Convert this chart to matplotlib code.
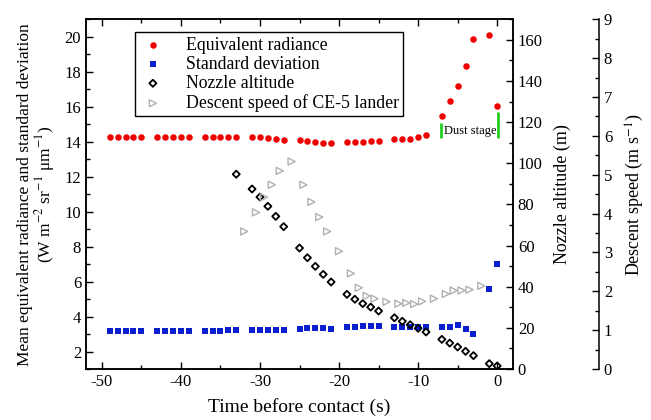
"""Radiance, standard deviation, nozzle altitude and descent speed before touchdown."""

import matplotlib.pyplot as plt
from matplotlib.ticker import MultipleLocator

plt.rcParams["font.family"] = ["Liberation Serif", "DejaVu Serif"]
plt.rcParams["mathtext.fontset"] = "stix"
plt.rcParams["axes.unicode_minus"] = False

# time stamps (s) shared by radiance and standard deviation
time_rad = [-49, -48, -47, -46, -45, -43, -42, -41, -40, -39,
            -37, -36, -35, -34, -33, -31, -30, -29, -28, -27,
            -25, -24, -23, -22, -21, -19, -18, -17, -16, -15,
            -13, -12, -11, -10, -9, -7, -6, -5, -4, -3, -1, 0]
radiance = [14.25, 14.25, 14.25, 14.25, 14.25, 14.25, 14.25, 14.25, 14.25, 14.25,
            14.27, 14.27, 14.27, 14.27, 14.27, 14.25, 14.25, 14.2, 14.15, 14.1,
            14.08, 14.02, 13.98, 13.94, 13.9, 13.96, 13.98, 14.0, 14.02, 14.06,
            14.13, 14.15, 14.17, 14.27, 14.4, 15.45, 16.34, 17.18, 18.33, 19.9,
            20.08, 16.02]
std_dev = [3.2, 3.2, 3.2, 3.2, 3.2, 3.2, 3.2, 3.2, 3.2, 3.2,
           3.2, 3.2, 3.2, 3.21, 3.22, 3.25, 3.25, 3.25, 3.25, 3.25,
           3.3, 3.33, 3.35, 3.33, 3.31, 3.39, 3.43, 3.44, 3.44, 3.45,
           3.43, 3.43, 3.43, 3.39, 3.39, 3.43, 3.39, 3.49, 3.31, 2.99,
           5.56, 7.01]

time_alt = [-33, -31, -30, -29, -28, -27, -25, -24, -23, -22, -21,
            -19, -18, -17, -16, -15, -13, -12, -11, -10, -9,
            -7, -6, -5, -4, -3, -1, 0]
altitude = [94.7, 87.5, 83.6, 79.1, 74.2, 69.2, 58.8, 54.1, 49.9, 46.0, 42.3,
            36.3, 33.9, 31.8, 30.1, 28.2, 24.9, 23.2, 21.5, 19.8, 18.0,
            14.4, 12.6, 10.7, 8.6, 6.5, 2.6, 1.5]

time_speed = [-32, -30.5, -29.5, -28.5, -27.5, -26, -24.5, -23.5, -22.5, -21.5,
              -20, -18.5, -17.5, -16.5, -15.5, -14, -12.5, -11.5, -10.5, -9.5,
              -8, -6.5, -5.5, -4.5, -3.5, -2]
speed = [3.54, 4.03, 4.42, 4.74, 5.10, 5.34, 4.74, 4.30, 3.91, 3.54,
         3.03, 2.46, 2.09, 1.88, 1.81, 1.73, 1.68, 1.70, 1.67, 1.74,
         1.81, 1.93, 2.02, 2.02, 2.04, 2.14]

# dust stage markers: (time, bottom, top) on the radiance axis
dust_left = (-7.05, 14.2, 15.05)
dust_right = (0.1, 14.2, 15.7)

fig = plt.figure(figsize=(6.51, 4.2), dpi=100)
ax = fig.add_axes([86 / 651, 51 / 420, 427 / 651, 349.7 / 420])
ax2 = ax.twinx()
ax3 = ax.twinx()
ax3.spines["right"].set_position(("axes", 1.2014))
for side in ("top", "left", "bottom"):
    ax3.spines[side].set_visible(False)

h1 = ax.scatter(time_rad, radiance, s=22, color="#ee0000", linewidths=0,
                label="Equivalent radiance", zorder=3)
h2 = ax.scatter(time_rad, std_dev, s=20, marker="s", color="#0a1fd0", linewidths=0,
                label="Standard deviation", zorder=3)
h3 = ax2.scatter(time_alt, altitude, s=13, marker="D", facecolors="none",
                 edgecolors="black", linewidths=1.3, label="Nozzle altitude", zorder=3)
h4 = ax3.scatter(time_speed, speed, s=26, marker=">", facecolors="none",
                 edgecolors="#b0b0b0", linewidths=1.0,
                 label="Descent speed of CE-5 lander", zorder=3)

for t, lo, hi in (dust_left, dust_right):
    ax.plot([t, t], [lo, hi], color="#22cc22", linewidth=2, solid_capstyle="butt")
ax.text(-3.4, 14.62, "Dust stage", ha="center", va="center", fontsize=9)

ax.set_xlim(-52, 2)
ax.set_ylim(1, 21)
ax2.set_ylim(0, 170)
ax3.set_ylim(0, 9)

ax.xaxis.set_major_locator(MultipleLocator(10))
ax.xaxis.set_minor_locator(MultipleLocator(5))
ax.yaxis.set_major_locator(MultipleLocator(2))
ax.yaxis.set_minor_locator(MultipleLocator(1))
ax2.yaxis.set_major_locator(MultipleLocator(20))
ax2.yaxis.set_minor_locator(MultipleLocator(10))
ax3.yaxis.set_major_locator(MultipleLocator(1))
ax3.yaxis.set_minor_locator(MultipleLocator(0.5))

ax.tick_params(axis="x", which="both", direction="in", top=True, labelsize=12)
ax.tick_params(axis="y", which="both", direction="in", right=False, labelsize=12)
ax.tick_params(which="major", length=5, width=1)
ax.tick_params(which="minor", length=3, width=1)
for a in (ax2, ax3):
    a.tick_params(axis="y", which="both", direction="in", labelsize=12, width=1)
    a.tick_params(which="major", length=5)
    a.tick_params(which="minor", length=3)
for a in (ax, ax2, ax3):
    for sp in a.spines.values():
        sp.set_linewidth(1.1)

ax.set_xlabel("Time before contact (s)", fontsize=14, labelpad=6)
ax.set_ylabel("Mean equivalent radiance and standard deviation\n"
              "(W m$^{-2}$ sr$^{-1}$ \u03bcm$^{-1}$)",
              fontsize=12.5, linespacing=1.0, labelpad=5)
ax2.set_ylabel("Nozzle altitude (m)", fontsize=13, labelpad=8)
ax3.set_ylabel(r"Descent speed (m s$^{-1}$)", fontsize=13, labelpad=8)

ax.legend(handles=[h1, h2, h3, h4], loc="upper left",
          bbox_to_anchor=(0.115, 0.963), borderaxespad=0, fontsize=12.8,
          frameon=True, fancybox=False, edgecolor="black", framealpha=1,
          labelspacing=0.12, handletextpad=1.1, handlelength=1.5,
          borderpad=0.25, scatterpoints=1)

fig.savefig("out.png", dpi=100)
